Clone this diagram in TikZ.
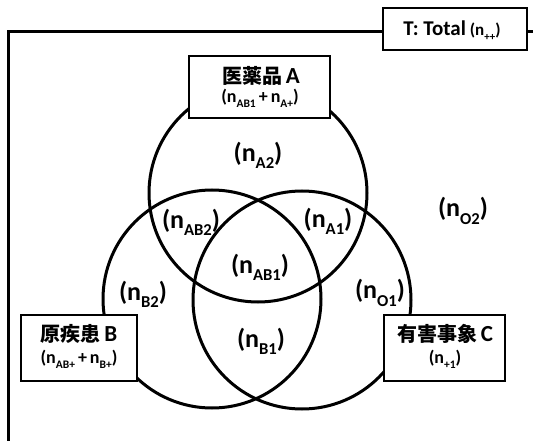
\documentclass[tikz,border=0pt]{standalone}
\usepackage{fontspec}
\setmainfont{Carlito}
\newfontfamily\cjk{Noto Sans CJK JP}
\newcommand\lsub[1]{\raisebox{-0.28em}{\scalebox{0.64}{#1}}}
\newcommand\cj[1]{{\cjk\bfseries\fontsize{20}{20}\selectfont #1}}
\begin{document}
\begin{tikzpicture}[x=1pt,y=-1pt,
  ring/.style={circle, draw=black, line width=3pt, minimum size=218pt, inner sep=0pt},
  frame/.style={draw=black, line width=3pt},
  box/.style={draw=black, line width=1.5pt, fill=white, inner sep=0pt},
  lbl/.style={font=\bfseries\fontsize{26}{26}\selectfont, inner sep=0pt},
  head/.style={font=\bfseries\fontsize{23}{23}\selectfont, inner sep=0pt},
  sublbl/.style={font=\bfseries\fontsize{18}{18}\selectfont, inner sep=0pt}]
\useasboundingbox (0,0) rectangle (533,441);
% circles
\node[ring] (circA) at (258,193) {};
\node[ring] (circB) at (212,299) {};
\node[ring] (circC) at (302,300) {};
% outer frame
\coordinate (fbl) at (8,441);
\coordinate (ftl) at (8,32);
\coordinate (ftr) at (533,32);
\draw[frame] (fbl) -- (ftl) -- (ftr);
% boxes
\node[box, minimum width=144pt, minimum height=42pt] (boxT) at (455,29) {};
\node[box, minimum width=141pt, minimum height=62pt] (boxA) at (259.5,87) {};
\node[box, minimum width=116pt, minimum height=66pt] (boxB) at (79,348) {};
\node[box, minimum width=121pt, minimum height=66pt] (boxC) at (444.5,348) {};
% box texts
\node[inner sep=0pt, font=\bfseries] (tT) at (452,31) {{\fontsize{21}{21}\selectfont T: Total}\hspace{4pt}{\fontsize{17}{17}\selectfont (n\lsub{++})}};
\node[head] (tA1) at (261,76) {\cj{医薬品}\,A};
\node[sublbl] (tA2) at (260,98) {(n\lsub{AB1}\,+\,n\lsub{A+})};
\node[head] (tB1) at (79,334) {\cj{原疾患}\,B};
\node[sublbl] (tB2) at (79,359) {(n\lsub{AB+}\,+\,n\lsub{B+})};
\node[head] (tC1) at (445,334) {\cj{有害事象}\,C};
\node[sublbl] (tC2) at (445,359) {(n\lsub{+1})};
% region labels
\node[lbl] (lA2) at (258,155) {(n\lsub{A2})};
\node[lbl] (lAB2) at (191,222) {(n\lsub{AB2})};
\node[lbl] (lA1) at (328,221) {(n\lsub{A1})};
\node[lbl] (lAB1) at (260,267) {(n\lsub{AB1})};
\node[lbl] (lB2) at (143,294) {(n\lsub{B2})};
\node[lbl] (lO1) at (380,293) {(n\lsub{O1})};
\node[lbl] (lB1) at (261,341) {(n\lsub{B1})};
\node[lbl] (lO2) at (463,211) {(n\lsub{O2})};
\end{tikzpicture}
\end{document}
